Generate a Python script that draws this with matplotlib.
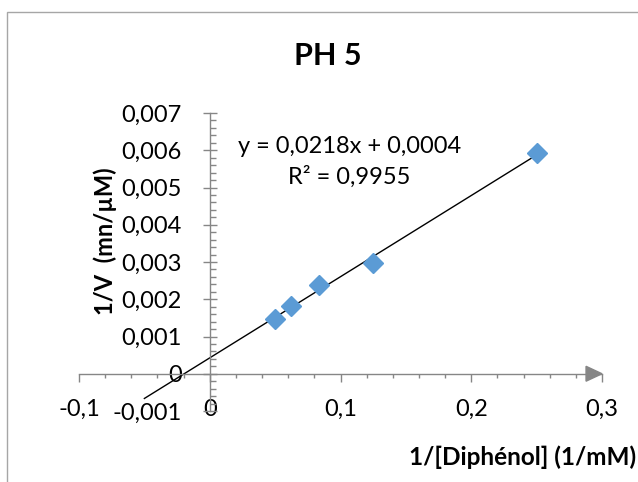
import numpy as np
import matplotlib
matplotlib.use("Agg")
import matplotlib.pyplot as plt
from matplotlib.patches import Rectangle, Polygon
from matplotlib.ticker import MultipleLocator, FuncFormatter

# Data
x_vals = [0.25, 0.125, 0.0833, 0.0625, 0.05]
y_vals = [0.00592, 0.00296, 0.00238, 0.00183, 0.00148]
title = "PH 5"
x_label = "1/[Diphénol] (1/mM)"
y_label = "1/V  (mn/µM)"
eq_text = "y = 0,0218x + 0,0004"
r2_text = "R² = 0,9955"
trend_x_start = -0.05

plt.rcParams['font.family'] = ['Lato', 'DejaVu Sans']

W, H = 638, 482
fig = plt.figure(figsize=(W/100, H/100), dpi=100)
fig.patch.set_facecolor('white')

# chart border
fig.patches.append(Rectangle((7/W, -0.01), 1.0, 1 - 12/H + 0.01, transform=fig.transFigure,
                             fill=False, edgecolor='#A6A6A6', lw=1.0))

ax = fig.add_axes([79/W, 1 - 411/H, (602-79)/W, (411-113)/H])
ax.set_xlim(-0.1, 0.3)
ax.set_ylim(-0.001, 0.007)
ax.patch.set_alpha(0)

for s in ['top', 'right']:
    ax.spines[s].set_visible(False)
ax.spines['left'].set_position(('data', 0))
ax.spines['bottom'].set_position(('data', 0))
axis_col = '#868686'
for s in ['left', 'bottom']:
    ax.spines[s].set_color(axis_col)
    ax.spines[s].set_linewidth(1.0)

ax.xaxis.set_major_locator(MultipleLocator(0.1))
ax.xaxis.set_minor_locator(MultipleLocator(0.02))
ax.yaxis.set_major_locator(MultipleLocator(0.001))
ax.yaxis.set_minor_locator(MultipleLocator(0.0002))

def fmt_x(v, pos):
    if abs(v) < 1e-12:
        return "0"
    return ("%.1f" % v).replace('.', ',')

def fmt_y(v, pos):
    if abs(v) < 1e-12:
        return "0"
    return ("%.3f" % v).replace('.', ',')

ax.xaxis.set_major_formatter(FuncFormatter(fmt_x))
ax.yaxis.set_major_formatter(FuncFormatter(fmt_y))

ax.tick_params(axis='x', which='major', direction='out', length=6, width=1, color=axis_col,
               labelsize=17, pad=12)
ax.tick_params(axis='x', which='minor', direction='out', length=3, width=1, color=axis_col)
ax.tick_params(axis='y', which='major', direction='inout', length=10, width=1, color=axis_col,
               labelsize=17, pad=15)
ax.tick_params(axis='y', which='minor', direction='in', length=4.3, width=1, color=axis_col)

# arrow at end of x axis
ax.add_patch(Polygon([[0.3 - 0.0122, 0.0002], [0.3 - 0.0122, -0.0002], [0.3, 0.0]],
                     closed=True, facecolor=axis_col, edgecolor=axis_col, clip_on=False, zorder=3))

# trendline
coef = np.polyfit(x_vals, y_vals, 1)
tx = np.array([trend_x_start, max(x_vals)])
ax.plot(tx, np.polyval(coef, tx), color='black', lw=1.0, zorder=2)

ax.plot(x_vals, y_vals, linestyle='none', marker='D', markersize=10,
        color='#5B9BD5', markeredgecolor='#5B9BD5', zorder=4)

ax.text(0.1066, 0.00609, eq_text, fontsize=17, ha='center', va='center')
ax.text(0.1066, 0.00528, r2_text, fontsize=17, ha='center', va='center')

fig.text(328/W, 1 - 56/H, title, fontsize=22, fontweight='bold', ha='center', va='center')
fig.text(105/W, 1 - 241/H, y_label, fontsize=17, fontweight='bold', rotation=90,
         ha='center', va='center')
fig.text(636/W, 1 - 457/H, x_label, fontsize=17.5, fontweight='bold', ha='right', va='center')

fig.savefig('out.png', dpi=100, facecolor='white')
